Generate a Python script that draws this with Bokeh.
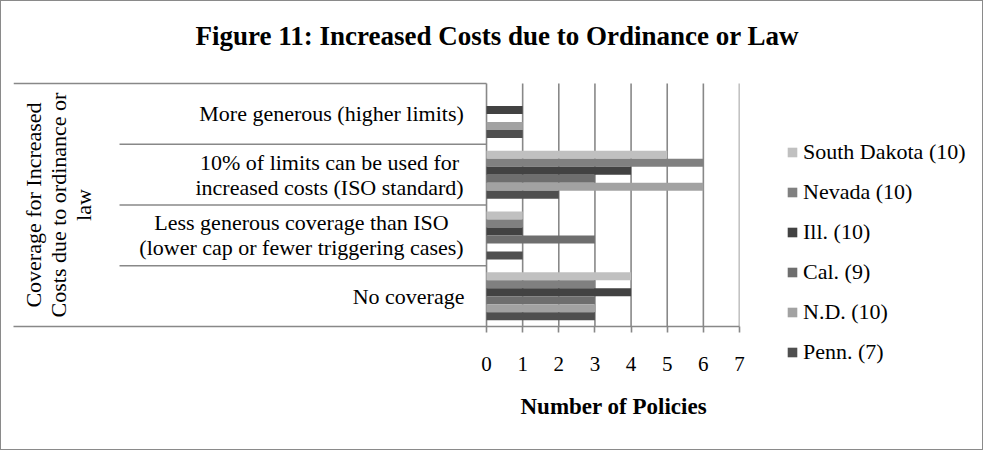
from bokeh.plotting import figure
from bokeh.models import (ColumnDataSource, Range1d, FixedTicker,
                          Legend, LegendItem, Title)
from bokeh.core.properties import value
from bokeh.embed import file_html
from bokeh.resources import INLINE
import math

# ---------------- data ----------------
categories = [
    "More generous (higher limits)",
    "10% of limits can be used for\nincreased costs (ISO standard)",
    "Less generous coverage than ISO\n(lower cap or fewer triggering cases)",
    "No coverage",
]
series_names = ["South Dakota (10)", "Nevada (10)", "Ill. (10)",
                "Cal. (9)", "N.D. (10)", "Penn. (7)"]
south_dakota = [0, 5, 1, 4]
nevada = [0, 6, 1, 3]
illinois = [1, 4, 1, 4]
california = [0, 3, 3, 3]
north_dakota = [1, 6, 0, 3]
pennsylvania = [1, 2, 1, 3]
x_ticks = [0, 1, 2, 3, 4, 5, 6, 7]
group_label = "Coverage for Increased\nCosts due to ordinance or\nlaw"
title_text = "Figure 11: Increased Costs due to Ordinance or Law"
x_title = "Number of Policies"

# ---------------- layout / style ----------------
FONT = "Liberation Serif"
FS = "22px"
GRID = "#888888"
colors = ["#c0c0c0", "#808080", "#424242", "#6e6e6e", "#a2a2a2", "#4f4f4f"]

FL, FW = 12, 726          # frame left / width (canvas px)
FT = 68                   # frame top (title panel above it)
FH = 325 - FT             # frame height down to the value axis
BR, BB = 230, 123
TOP = 82 - FT             # frame y of the category block's top edge
UNIT = 36.14              # px per policy
X0 = x_ticks[-1] - FW / UNIT
NCAT = len(categories)
CAT_PX = (FH - TOP) / NCAT
BAR_H = 8 / CAT_PX

def px(dx):
    """horizontal pixel offset from the zero line -> data units"""
    return dx / UNIT

cat_y = [NCAT - 0.5 - k for k in range(NCAT)]   # category centres, top first
series = [south_dakota, nevada, illinois, california, north_dakota, pennsylvania]

p = figure(frame_width=FW, frame_height=FH,
           x_range=Range1d(X0, x_ticks[-1]), y_range=Range1d(0, FH / CAT_PX),
           output_backend="svg", toolbar_location=None,
           y_axis_location=None,
           min_border_left=FL, min_border_right=BR,
           min_border_top=FT, min_border_bottom=BB,
           background_fill_color="white", border_fill_color="white")
p.outline_line_color = None
p.styles = {"border": "1px solid #8a8a8a", "width": "983px", "overflow": "hidden"}
p.xgrid.visible = False
p.ygrid.visible = False

# value gridlines (only across the category block)
p.segment(x0=x_ticks, x1=x_ticks, y0=[0] * len(x_ticks), y1=[NCAT] * len(x_ticks),
          line_color=GRID, line_width=1.6)

# x axis
ax = p.xaxis[0]
ax.ticker = FixedTicker(ticks=x_ticks)
ax.axis_line_color = GRID
ax.axis_line_width = 1.6
ax.major_tick_line_color = GRID
ax.major_tick_line_width = 1.6
ax.major_tick_out = 6
ax.major_tick_in = 0
ax.minor_tick_line_color = None
ax.major_label_text_font = FONT
ax.major_label_text_font_size = "21px"
ax.major_label_text_color = "black"
ax.major_label_standoff = 24

# bars
renderers = []
n = len(series)
for i, (vals, col) in enumerate(zip(series, colors)):
    off = ((n - 1) / 2 - i) * BAR_H
    src = ColumnDataSource(dict(y=[c + off for c in cat_y], right=vals))
    r = p.hbar(y="y", left=0, right="right", height=BAR_H, source=src,
               fill_color=col, line_color=None)
    renderers.append(r)

# table lines on the left
p.segment(x0=[X0], x1=[0], y0=[NCAT], y1=[NCAT], line_color=GRID, line_width=1.6)
sep_y = list(range(1, NCAT))
p.segment(x0=[px(119 - 486)] * len(sep_y), x1=[0] * len(sep_y),
          y0=sep_y, y1=sep_y, line_color=GRID, line_width=1.6)

# category labels (each line centred within its block)
centers = [-155, -157, -185, -78]
lx, ly, lt = [], [], []
LINE = 25 / CAT_PX
for cat, cy, cx in zip(categories, cat_y, centers):
    lines = cat.split("\n")
    k = len(lines)
    for j, t in enumerate(lines):
        lx.append(px(cx))
        ly.append(cy + ((k - 1) / 2 - j) * LINE)
        lt.append(t)
p.text(x=lx, y=ly, text=lt, text_font=value(FONT), text_font_size=FS,
       text_align="center", text_baseline="middle", text_color="black")

# rotated group label
p.text(x=[px(58 - 486)], y=[NCAT / 2], text=[group_label],
       angle=math.pi / 2, text_font=value(FONT), text_font_size=FS,
       text_align="center", text_baseline="middle", text_color="black",
       text_line_height=1.0)

# chart title
p.add_layout(Title(text=title_text, align="left", offset=182, standoff=34,
                   vertical_align="top", text_font=FONT,
                   text_font_size="27px", text_font_style="bold",
                   text_color="black"), "above")

# legend
items = [LegendItem(label=nm, renderers=[r]) for nm, r in zip(series_names, renderers)]
legend = Legend(items=items, location=(47, -39), glyph_width=12, glyph_height=12,
                label_height=26, spacing=14, padding=0, margin=0,
                border_line_color=None, background_fill_alpha=0,
                label_standoff=5, label_text_font=FONT,
                label_text_font_size=FS, label_text_color="black")
p.add_layout(legend, "right")

# value-axis title
p.add_layout(Title(text=x_title, align="left", offset=507, standoff=40,
                   vertical_align="top", text_font=FONT,
                   text_font_size="23px", text_font_style="bold",
                   text_color="black"), "below")

open("out.html", "w").write(file_html(p, INLINE))
